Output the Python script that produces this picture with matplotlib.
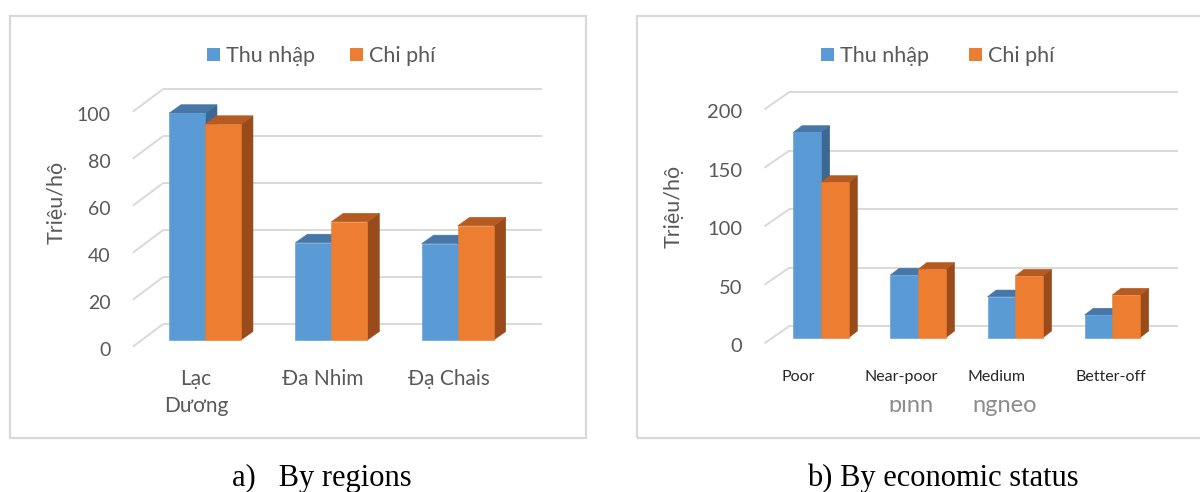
import matplotlib
matplotlib.use("Agg")
import matplotlib.pyplot as plt
from matplotlib.patches import Polygon, Rectangle
from matplotlib.transforms import offset_copy

# ---------------------------------------------------------------- data
series_names = ["Thu nhập", "Chi phí"]
y_title = "Triệu/hộ"

regions = ["Lạc\nDương", "Đa Nhim", "Đạ Chais"]
region_income = [96.5, 41.4, 41.0]
region_cost = [91.8, 50.3, 48.6]
region_ticks = [0, 20, 40, 60, 80, 100]

status = ["Poor", "Near-poor", "Medium", "Better-off"]
status_sub = ["", "bình", "nghèo", ""]
status_income = [175.5, 53.6, 35.0, 19.4]
status_cost = [132.8, 58.5, 52.7, 36.5]
status_ticks = [0, 50, 100, 150, 200]

captions = ["a)   By regions", "b) By economic status"]

# ---------------------------------------------------------------- style
W, H, DPI = 1200, 492, 100
FONT = ["Lato", "DejaVu Sans"]
SERIF = ["Liberation Serif", "DejaVu Serif"]
GRAY = "#595959"
GRID = "#D9D9D9"
FRONT = ["#5B9BD5", "#ED7D31"]
TOP = ["#4677A7", "#B55B21"]
SIDE = ["#3C6892", "#994B1C"]

fig = plt.figure(figsize=(W / DPI, H / DPI), dpi=DPI)
fig.patch.set_facecolor("white")


def fx(x):
    return x / W


def fy(y):
    return 1 - y / H


def frame(x0, y0, x1, y1):
    fig.patches.append(Rectangle((fx(x0), fy(y1)), (x1 - x0) / W, (y1 - y0) / H,
                                 transform=fig.transFigure, fill=False,
                                 ec=GRID, lw=1.6, zorder=0))


def legend(x_blue, x_orange, y_mid, size):
    for xs, name, col in zip((x_blue, x_orange), series_names, FRONT):
        fig.patches.append(Rectangle((fx(xs), fy(y_mid + 6.5)), 13 / W, 13 / H,
                                     transform=fig.transFigure, fc=col, ec="none"))
        fig.text(fx(xs + 19), fy(y_mid + 7.5), name, family=FONT, size=size,
                 color=GRAY, ha="left", va="baseline")


def panel(left, base, width, height, ymax, cats, income, cost, ticks,
          front, back, depth, bar_px, tick_size, cat_cfg):
    n = len(cats)
    ax = fig.add_axes([fx(left), 1 - base / H, width / W, height / H])
    ax.set_xlim(-0.5, n - 0.5)
    ax.set_ylim(0, ymax)
    ax.set_autoscale_on(False)
    ax.axis("off")
    ppx = width / n
    ppy = height / ymax

    def off(dx, dy_down):
        return dx / ppx, -dy_down / ppy

    fdx, fdy = off(*front)
    bdx, bdy = off(*back)

    # floor/back wall grid and tick labels
    for v in ticks:
        ax.plot([-0.5 + bdx, n - 0.5 + bdx], [v + bdy, v + bdy], color=GRID,
                lw=1.4, zorder=1, clip_on=False, solid_capstyle="butt")
        ax.plot([-0.5 + fdx, -0.5 + bdx], [v + fdy, v + bdy], color=GRID,
                lw=1.4, zorder=1, clip_on=False, solid_capstyle="butt")
        tr = offset_copy(ax.transData, fig, x=front[0] - 22,
                         y=-(front[1] + 9), units="dots")
        ax.text(-0.5, v, str(v), transform=tr, ha="right", va="baseline",
                family=FONT, size=tick_size, color=GRAY)

    # pseudo-3D columns
    w = bar_px / ppx
    ddx, ddy = off(*depth)
    z = 3
    for i in range(n):
        for s, vals in enumerate((income, cost)):
            v = vals[i]
            x0 = i + (s - 1) * w
            x1 = x0 + w
            ax.add_patch(Polygon([(x1, 0), (x1 + ddx, ddy), (x1 + ddx, v + ddy), (x1, v)],
                                 closed=True, fc=SIDE[s], ec=SIDE[s], lw=0.4,
                                 zorder=z, clip_on=False))
            ax.add_patch(Polygon([(x0, v), (x1, v), (x1 + ddx, v + ddy), (x0 + ddx, v + ddy)],
                                 closed=True, fc=TOP[s], ec=TOP[s], lw=0.4,
                                 zorder=z + 1, clip_on=False))
            ax.bar(x0, v, width=w, align="edge", color=FRONT[s], ec=FRONT[s],
                   lw=0.4, zorder=z + 2, clip_on=False)
            z += 3

    # category labels
    size, color, dxs, base_off, line_gap = cat_cfg
    for i, label in enumerate(cats):
        for k, line in enumerate(label.split("\n")):
            tr = offset_copy(ax.transData, fig, x=dxs[i],
                             y=-(base_off + k * line_gap), units="dots")
            ax.text(i, 0, line, transform=tr, ha="center", va="baseline",
                    family=FONT, size=size, color=color, zorder=60)
    return ax, ppx


# ---------------------------------------------------------------- panel a
frame(10, 15.7, 586, 438.3)
legend(206.7, 350, 54.5, 15.5)
fig.text(fx(57), fy(202), y_title, rotation=90, ha="center", va="center",
         family=FONT, size=15.5, color=GRAY)
panel(left=141.8, base=340, width=379.1, height=235, ymax=100,
      cats=regions, income=region_income, cost=region_cost, ticks=region_ticks,
      front=(-9, 6.7), back=(21, -15.7), depth=(12, -8.5), bar_px=36,
      tick_size=14,
      cat_cfg=(15, GRAY, [-9, -9, -9], 45, 26.7))

# ---------------------------------------------------------------- panel b
frame(636.7, 15.7, 1215, 438.3)
legend(821, 969, 54.5, 15.5)
fig.text(fx(674), fy(206), y_title, rotation=90, ha="center", va="center",
         family=FONT, size=15.5, color=GRAY)
ax_b, ppx_b = panel(left=772.45, base=337.7, width=388.4, height=234, ymax=200,
                    cats=status, income=status_income, cost=status_cost,
                    ticks=status_ticks, front=(-8, 5.6), back=(17, -11.7),
                    depth=(8.7, -6.7), bar_px=27.7, tick_size=14.5,
                    cat_cfg=(11.5, "#262626", [-23, -17, -19, -1], 43, 0))

# second-row labels, their upper part hidden under the first row's band
for i, (sub, sdx) in enumerate(zip(status_sub, [0, -7, -10.3, 0])):
    if not sub:
        continue
    tr = offset_copy(ax_b.transData, fig, x=sdx, y=-74, units="dots")
    ax_b.text(i, 0, sub, transform=tr, ha="center", va="baseline",
              family=FONT, size=17, color="#8C8C8C", zorder=40)
ax_b.add_patch(Rectangle((fx(845), fy(400.4)), 215 / W, 18 / H,
                         transform=fig.transFigure, fc="white", ec="none",
                         zorder=50, clip_on=False))

# ---------------------------------------------------------------- captions
fig.text(fx(322), fy(478), captions[0], ha="center", va="center",
         family=SERIF, size=22, color="black")
fig.text(fx(943), fy(478), captions[1], ha="center", va="center",
         family=SERIF, size=22, color="black")

fig.savefig("out.png", dpi=DPI, facecolor="white")
